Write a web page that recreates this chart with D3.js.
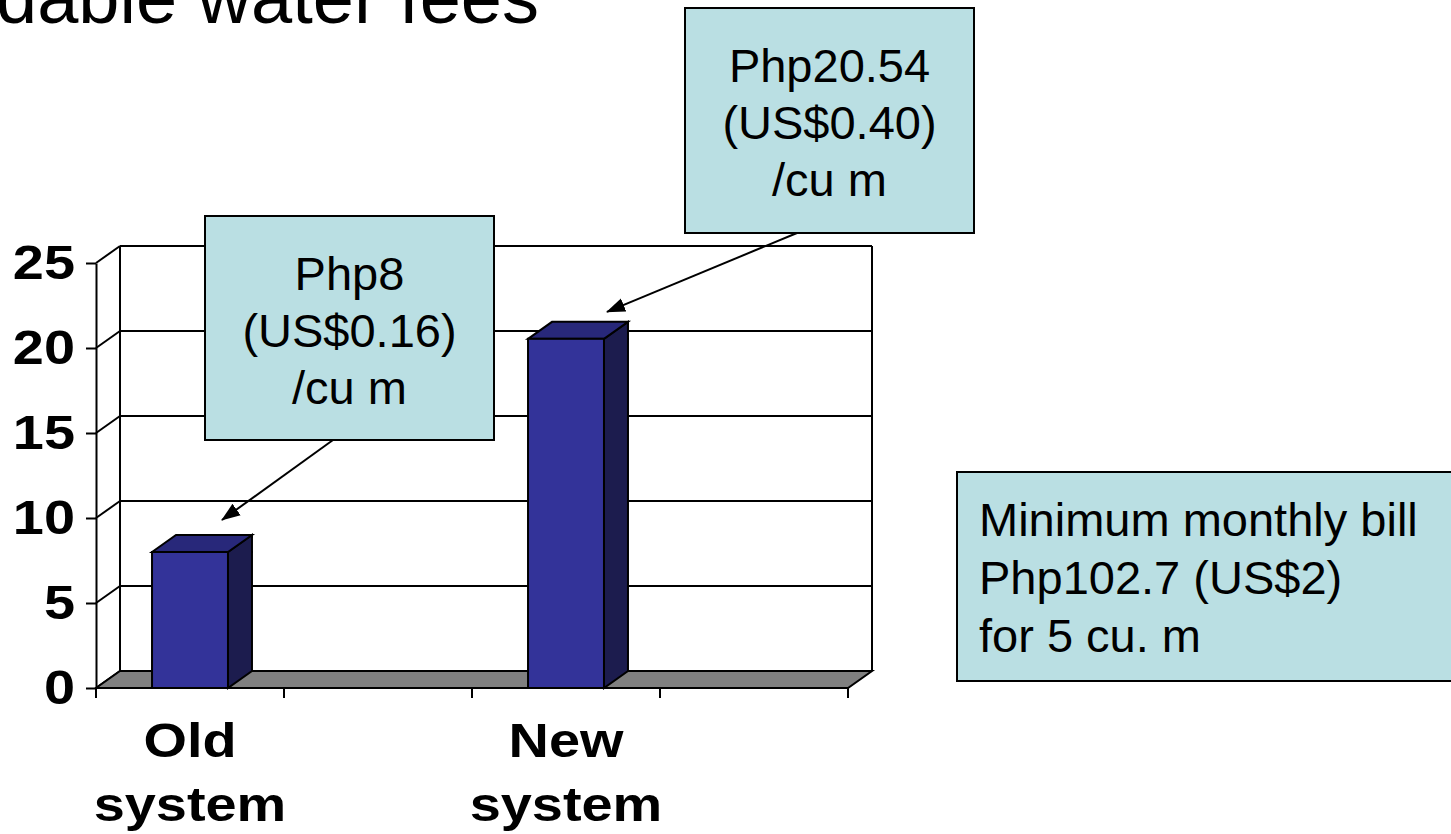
<!DOCTYPE html>
<html lang="en">
<head>
<meta charset="utf-8">
<title>Affordable water fees</title>
<style>
  body { margin: 0; background: #fff; }
  svg { display: block; font-family: Arial, "Liberation Sans", sans-serif; }
</style>
</head>
<body>
<div id="chart"></div>
<script src="https://d3js.org/d3.v7.min.js"></script>
<script>
// data
var categories = ["Old system", "", "New system", ""];
var values = [8, null, 20.54, null];
var yTicks = [0, 5, 10, 15, 20, 25];
var calloutLines = [["Php8", "(US$0.16)", "/cu m"], ["Php20.54", "(US$0.40)", "/cu m"]];
var calloutBar = [0, 2];
var noteLines = ["Minimum monthly bill", "Php102.7 (US$2)", "for 5 cu. m"];
var titleText = "Affordable water fees";

var W = 1451, H = 834;
var depthX = 24, depthY = -17;   // 3d offset of back wall
var plotL = 96, plotR = 848, plotB = 688, plotT = 263;

var svg = d3.select("#chart").append("svg")
  .attr("width", W).attr("height", H);

svg.append("defs").append("marker")
  .attr("id", "arrow")
  .attr("markerUnits", "userSpaceOnUse")
  .attr("markerWidth", 20).attr("markerHeight", 16)
  .attr("viewBox", "0 -8 20 16")
  .attr("refX", 18).attr("refY", 0)
  .attr("orient", "auto")
  .append("path").attr("d", "M0,-7L19,0L0,7Z").attr("fill", "#000");

// title (cut off at top edge)
svg.append("text")
  .attr("x", 539).attr("y", 23)
  .attr("text-anchor", "end")
  .style("font-size", "74px")
  .text(titleText);

var x = d3.scaleBand()
  .domain(d3.range(categories.length))
  .range([plotL, plotR])
  .paddingInner(0.596)
  .paddingOuter(0.298);

var xTick = d3.scaleBand()
  .domain(d3.range(categories.length))
  .range([plotL, plotR]);

var y = d3.scaleLinear().domain([0, 25]).range([plotB, plotT]);

var g = svg.append("g");

// left wall diagonals + back wall gridlines
yTicks.forEach(function(t) {
  g.append("line")
    .attr("x1", plotL).attr("y1", y(t))
    .attr("x2", plotL + depthX).attr("y2", y(t) + depthY)
    .attr("stroke", "#000").attr("stroke-width", 2);
  if (t > 0) {
    g.append("line")
      .attr("x1", plotL + depthX).attr("y1", y(t) + depthY)
      .attr("x2", plotR + depthX).attr("y2", y(t) + depthY)
      .attr("stroke", "#000").attr("stroke-width", 2);
  }
});
// back wall verticals
[plotL + depthX, plotR + depthX].forEach(function(xx) {
  g.append("line")
    .attr("x1", xx).attr("y1", y(25) + depthY)
    .attr("x2", xx).attr("y2", y(0) + depthY)
    .attr("stroke", "#000").attr("stroke-width", 2);
});

// floor
g.append("polygon")
  .attr("points", [[plotL, y(0)], [plotR, y(0)], [plotR + depthX, y(0) + depthY], [plotL + depthX, y(0) + depthY]].join(" "))
  .attr("fill", "#808080").attr("stroke", "#000").attr("stroke-width", 2);

// bars
var barData = values.map(function(v, i) { return {i: i, v: v}; }).filter(function(d) { return d.v != null; });
var bars = g.selectAll(".bar").data(barData).enter().append("g").attr("class", "bar");
bars.append("polygon")
  .attr("points", function(d) {
    var x0 = x(d.i) + x.bandwidth(), y0 = y(d.v), y1 = y(0);
    return [[x0, y0], [x0 + depthX, y0 + depthY], [x0 + depthX, y1 + depthY], [x0, y1]].join(" ");
  })
  .attr("fill", "#1c1c4e").attr("stroke", "#000").attr("stroke-width", 2);
bars.append("polygon")
  .attr("points", function(d) {
    var x0 = x(d.i), x1 = x(d.i) + x.bandwidth(), y0 = y(d.v);
    return [[x0, y0], [x0 + depthX, y0 + depthY], [x1 + depthX, y0 + depthY], [x1, y0]].join(" ");
  })
  .attr("fill", "#28287a").attr("stroke", "#000").attr("stroke-width", 2);
bars.append("rect")
  .attr("x", function(d) { return x(d.i); })
  .attr("y", function(d) { return y(d.v); })
  .attr("width", x.bandwidth())
  .attr("height", function(d) { return y(0) - y(d.v); })
  .attr("fill", "#333399").attr("stroke", "#000").attr("stroke-width", 2);

// y axis
var yAxis = g.append("g")
  .attr("transform", "translate(" + plotL + ",0)")
  .call(d3.axisLeft(y).tickValues(yTicks).tickSize(10).tickSizeOuter(0).tickPadding(11));
yAxis.select(".domain").attr("stroke", "#000").attr("stroke-width", 2);
yAxis.selectAll(".tick line").attr("stroke", "#000").attr("stroke-width", 2);
yAxis.selectAll(".tick text")
  .attr("font-family", "Arial, 'Liberation Sans', sans-serif")
  .attr("font-weight", "bold")
  .attr("font-size", 49)
  .attr("fill", "#000")
  .attr("transform", "translate(-21,0) scale(1.14,1) translate(21,0)");

// x axis baseline + ticks
g.append("line")
  .attr("x1", plotL).attr("y1", y(0)).attr("x2", plotR).attr("y2", y(0))
  .attr("stroke", "#000").attr("stroke-width", 2);
xTick.domain().concat([categories.length]).forEach(function(i) {
  var xx = i < categories.length ? xTick(i) : plotR;
  g.append("line")
    .attr("x1", xx).attr("y1", y(0)).attr("x2", xx).attr("y2", y(0) + 10)
    .attr("stroke", "#000").attr("stroke-width", 2);
});

// category labels
categories.forEach(function(c, i) {
  if (!c) return;
  var cx = xTick(i) + xTick.bandwidth() / 2;
  var t = g.append("text")
    .attr("text-anchor", "middle")
    .attr("font-weight", "bold")
    .attr("font-size", 49)
    .attr("transform", "translate(" + cx + ",0) scale(1.14,1)");
  c.split(" ").forEach(function(w, k) {
    t.append("tspan").attr("x", 0).attr("y", 757 + k * 64).text(w);
  });
});

// callouts
var boxes = [
  {x: 205, y: 216, w: 289, h: 224, from: [333, 440], tip: [-6, -32]},
  {x: 685, y: 8, w: 289, h: 225, from: [797, 233], tip: [3, -27]}
];
boxes.forEach(function(b, k) {
  svg.append("rect")
    .attr("x", b.x).attr("y", b.y).attr("width", b.w).attr("height", b.h)
    .attr("fill", "#badfe3").attr("stroke", "#000").attr("stroke-width", 2);
  calloutLines[k].forEach(function(line, j) {
    svg.append("text")
      .attr("x", b.x + b.w / 2).attr("y", b.y + 74 + j * 57)
      .attr("text-anchor", "middle")
      .attr("font-size", 47)
      .text(line);
  });
  var bi = calloutBar[k];
  svg.append("line")
    .attr("x1", b.from[0]).attr("y1", b.from[1])
    .attr("x2", x(bi) + x.bandwidth() + b.tip[0])
    .attr("y2", y(values[bi]) + b.tip[1])
    .attr("stroke", "#000").attr("stroke-width", 2)
    .attr("marker-end", "url(#arrow)");
});

// note box on the right
svg.append("rect")
  .attr("x", 957).attr("y", 472).attr("width", 510).attr("height", 209)
  .attr("fill", "#badfe3").attr("stroke", "#000").attr("stroke-width", 2);
noteLines.forEach(function(line, j) {
  svg.append("text")
    .attr("x", 979).attr("y", 536 + j * 58)
    .attr("font-size", 47)
    .text(line);
});
</script>
</body>
</html>
